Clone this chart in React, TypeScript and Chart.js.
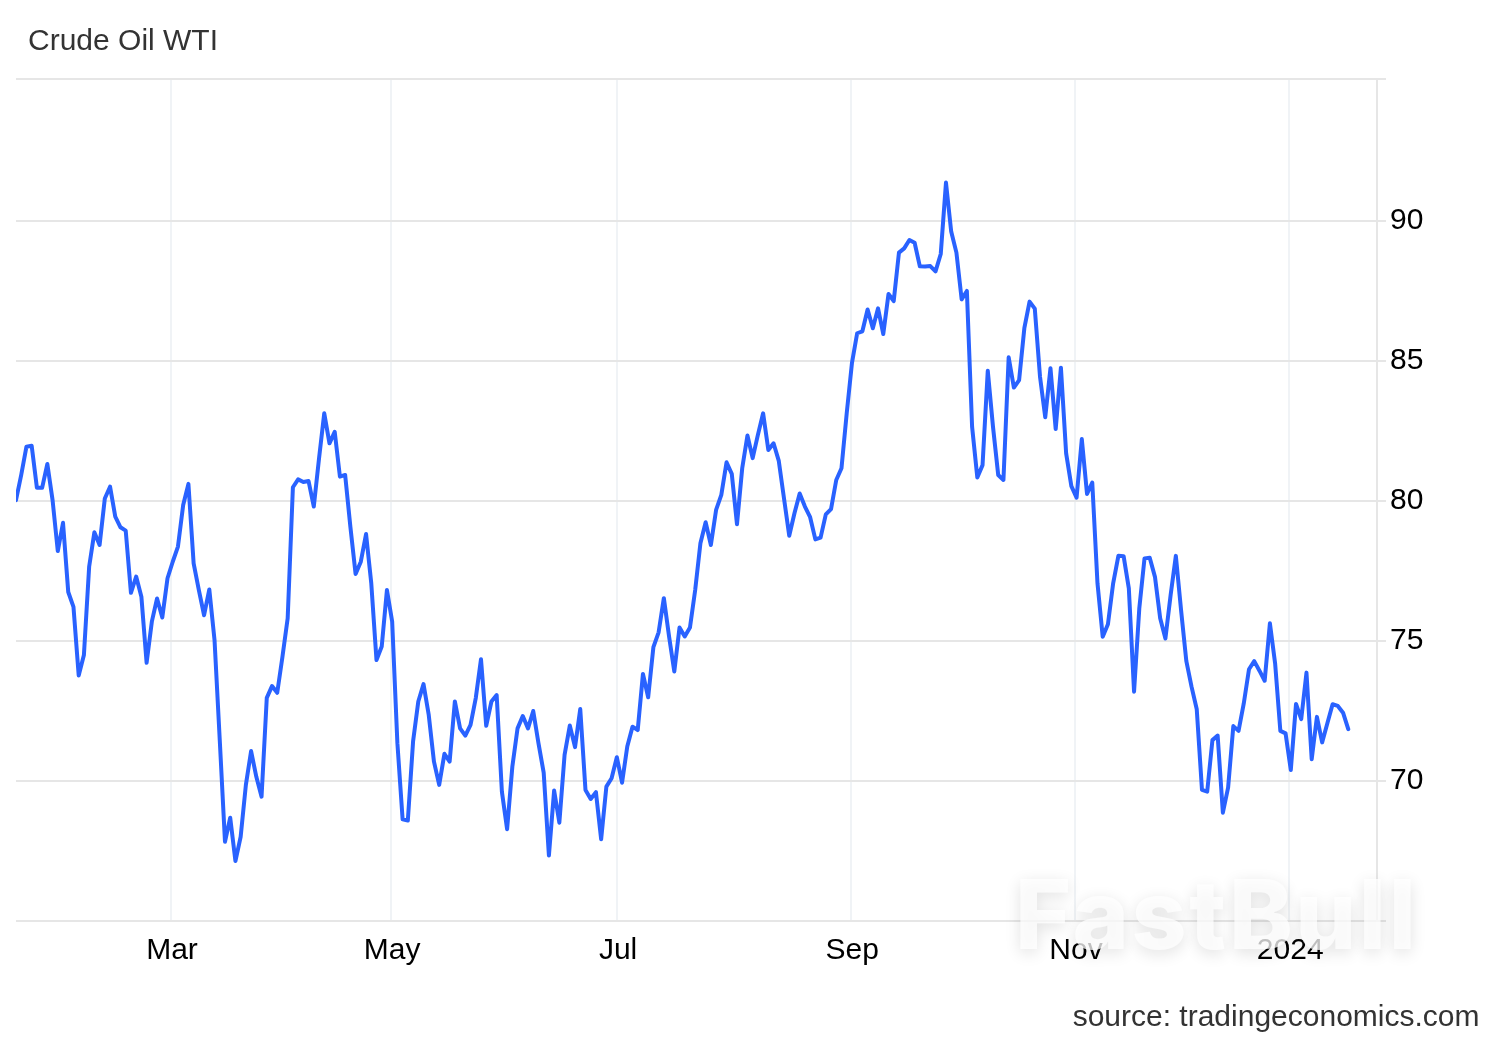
import { useEffect, useRef } from "react"
import { Chart, registerables } from "chart.js"

Chart.register(...registerables)

// closing prices, split into runs so the list stays readable
const pricesJanMar = [
  80.03, 80.93, 81.94, 81.97, 80.47, 80.47, 81.32, 80.03, 78.21, 79.22,
  76.75, 76.22, 73.77, 74.5, 77.65, 78.88, 78.43, 80.09, 80.51, 79.44,
  79.06, 78.94, 76.72, 77.3, 76.58, 74.22, 75.69, 76.52, 75.84, 77.24,
]
const pricesMarMay = [
  77.83, 78.37, 79.86, 80.61, 77.77, 76.82, 75.92, 76.84, 75.03, 71.46,
  67.83, 68.69, 67.14, 68.01, 69.86, 71.07, 70.15, 69.44, 72.97, 73.39,
  73.15, 74.44, 75.81, 80.49, 80.77, 80.68, 80.71, 79.8, 81.52, 83.13,
  82.06, 82.47, 80.87, 80.93, 79.08, 77.39, 77.83, 78.82, 77.06, 74.32,
  74.8, 76.82,
]
const pricesMayJul = [
  75.69, 71.35, 68.63, 68.59, 71.41, 72.84, 73.46, 72.36, 70.69, 69.86,
  70.97, 70.69, 72.84, 71.88, 71.62, 72.0, 72.96, 74.35, 71.97, 72.84,
  73.07, 69.62, 68.28, 70.51, 71.88, 72.32, 71.88, 72.5, 71.35, 70.3,
  67.34, 69.66, 68.51, 70.93, 71.98, 71.21, 72.57, 69.68, 69.36, 69.6,
  67.92, 69.8, 70.1,
]
const pricesJulSep = [
  70.85, 69.94, 71.23, 71.94, 71.82, 73.82, 72.99, 74.78, 75.31, 76.53,
  75.16, 73.91, 75.48, 75.16, 75.48, 76.82, 78.49, 79.24, 78.43, 79.68,
  80.22, 81.38, 80.97, 79.17, 81.17, 82.34, 81.53, 82.36, 83.13, 81.82,
  82.06, 81.43, 80.09, 78.76, 79.56, 80.27, 79.8, 79.42, 78.63, 78.69,
  79.52, 79.71, 80.75, 81.17, 83.13,
]
const pricesSepNov = [
  84.92, 85.99, 86.06, 86.84, 86.17, 86.88, 85.96, 87.39, 87.14, 88.87,
  89.02, 89.32, 89.22, 88.38, 88.37, 88.39, 88.2, 88.82, 91.37, 89.62,
  88.87, 87.2, 87.5, 82.65, 80.84, 81.28, 84.65, 82.65, 80.93, 80.75,
  85.13, 84.05, 84.32, 86.17, 87.12, 86.87, 84.44, 82.99, 84.74, 82.57,
  84.76, 81.7, 80.53, 80.12,
]
const pricesNovJan = [
  82.21, 80.25, 80.66, 77.06, 75.15, 75.6, 77.06, 78.04, 78.03, 76.88,
  73.19, 76.16, 77.95, 77.97, 77.29, 75.81, 75.09, 76.64, 78.04, 76.1,
  74.29, 73.37, 72.56, 69.68, 69.62, 71.46, 71.62, 68.87, 69.76, 71.96,
  71.79, 72.77, 73.99, 74.28, 73.94, 73.58, 75.63, 74.2, 71.79, 71.7,
]
const pricesJan = [70.39, 72.75, 72.21, 73.87, 70.78, 72.29, 71.38, 72.06, 72.74, 72.68, 72.44, 71.85]

const prices = [...pricesJanMar, ...pricesMarMay, ...pricesMayJul, ...pricesJulSep, ...pricesSepNov, ...pricesNovJan, ...pricesJan]

const xTickPositions = [29.67, 71.8, 115.05, 159.85, 202.7, 243.7, 260.5]
const xTickLabels = ["Mar", "May", "Jul", "Sep", "Nov", "2024", ""]
const yTickValues = [65, 70, 75, 80, 85, 90, 95.07]
const yTickLabels = ["", "70", "75", "80", "85", "90", ""]

const LINE = "#2962ff"
const FONT = '"Liberation Sans", Arial, sans-serif'

export default function App() {
  const canvasRef = useRef<HTMLCanvasElement>(null)

  useEffect(() => {
    if (!canvasRef.current) return
    document.body.style.margin = "0"

    const chart = new Chart(canvasRef.current, {
      type: "line",
      data: {
        datasets: [
          {
            label: "Crude Oil WTI",
            data: prices.map((y, x) => ({ x, y })),
            borderColor: LINE,
            borderWidth: 4,
            borderJoinStyle: "round",
            borderCapStyle: "round",
            pointRadius: 0,
            tension: 0,
            fill: false,
          },
        ],
      },
      options: {
        responsive: false,
        animation: false,
        devicePixelRatio: 1,
        layout: { padding: { left: 16, top: 79, right: 0, bottom: 0 } },
        plugins: {
          legend: { display: false },
          tooltip: { enabled: false },
        },
        scales: {
          x: {
            type: "linear",
            min: 0,
            max: 260.5,
            afterBuildTicks: (scale) => {
              scale.ticks = xTickPositions.map((value) => ({ value }))
            },
            afterFit: (scale) => {
              scale.height = 119
            },
            grid: {
              color: (ctx) => (ctx.index === xTickPositions.length - 1 ? "#e6e6e6" : "#f0f3f6"),
              lineWidth: 2,
              drawTicks: false,
            },
            border: { display: false },
            ticks: {
              color: "#000",
              font: { family: FONT, size: 30 },
              padding: 12,
              labelOffset: 1,
              maxRotation: 0,
              autoSkip: false,
              callback: (value) => xTickLabels[xTickPositions.indexOf(Number(value))] ?? "",
            },
          },
          y: {
            type: "linear",
            position: "right",
            min: 65,
            max: 95.07,
            afterBuildTicks: (scale) => {
              scale.ticks = yTickValues.map((value) => ({ value }))
            },
            afterFit: (scale) => {
              scale.width = 123
            },
            grid: { color: "#e6e6e6", lineWidth: 2, tickLength: 9 },
            border: { display: false },
            ticks: {
              color: "#000",
              font: { family: FONT, size: 30 },
              padding: 4,
              autoSkip: false,
              callback: (value) => yTickLabels[yTickValues.indexOf(Number(value))] ?? "",
            },
          },
        },
      },
    })

    return () => chart.destroy()
  }, [])

  return (
    <div style={{ position: "absolute", left: 0, top: 0, width: 1500, height: 1040, background: "#fff", overflow: "hidden", fontFamily: FONT }}>
      <canvas ref={canvasRef} width={1500} height={1040} style={{ position: "absolute", left: 0, top: 0 }} />
      <div style={{ position: "absolute", left: 28, top: 23, fontSize: 30, lineHeight: "34px", color: "#333" }}>Crude Oil WTI</div>
      <div style={{ position: "absolute", right: 20.5, top: 998, fontSize: 30, lineHeight: "36px", color: "#333" }}>source: tradingeconomics.com</div>
      <div
        style={{
          position: "absolute",
          left: 1015,
          top: 854,
          fontFamily: "Inter, sans-serif",
          fontWeight: 800,
          fontSize: 96,
          letterSpacing: 2.6,
          lineHeight: "120px",
          color: "rgba(255,255,255,0.75)",
          textShadow: "0 4px 16px rgba(0,0,0,0.12)",
          whiteSpace: "nowrap",
        }}
      >
        FastBull
      </div>
    </div>
  )
}
